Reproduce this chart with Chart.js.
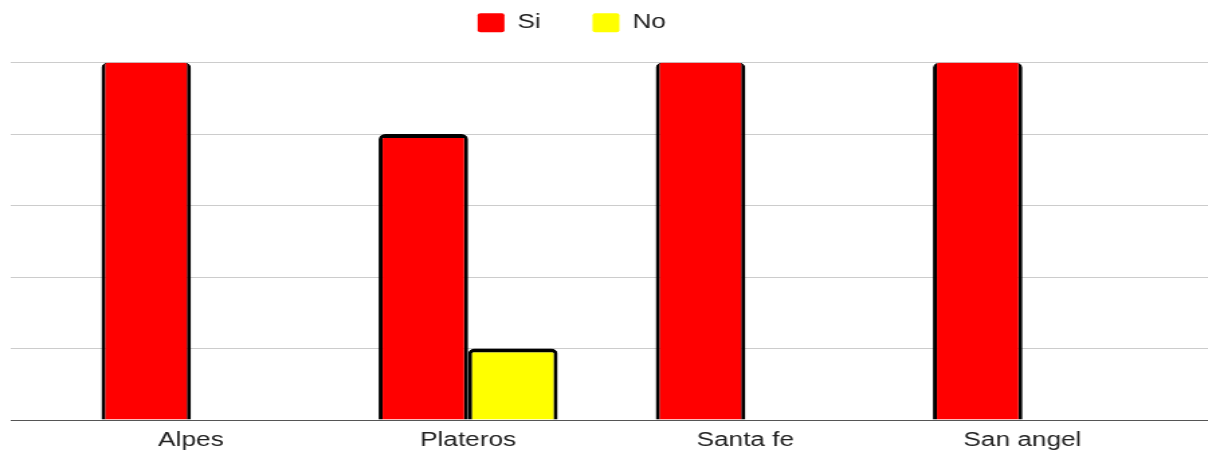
<!DOCTYPE html>
<html>
<head>
<meta charset="utf-8">
<script src="https://cdn.jsdelivr.net/npm/chart.js@4"></script>
<style>
  html, body { margin: 0; padding: 0; background: #fff; overflow: hidden; }
  #wrap { width: 900px; height: 450px; transform: scaleX(1.3422); transform-origin: 0 0; }
</style>
</head>
<body>
<div id="wrap"><canvas id="chart" width="900" height="450"></canvas></div>
<script>
const categories = ["Alpes", "Plateros", "Santa fe", "San angel"];
const siValues = [5, 4, 5, 5];
const noValues = [0, 1, 0, 0];
const yMax = 5;

Chart.defaults.font.family = "'Liberation Sans', Arial, sans-serif";
Chart.defaults.color = "#222";

// grid color: zero line darker, like an axis
function gridColor(ctx) {
    return ctx.tick && ctx.tick.value === 0 ? "#555" : "#ccc";
}

// bars that reach the top run past the plot edge, so no top border
function barBorder(ctx) {
    const atTop = ctx.parsed && ctx.parsed.y >= yMax;
    return { top: atTop ? 0 : 4, left: 3, right: 3, bottom: 0 };
}

// legend padding is shared between x and y, so nudge the box after layout
const legendShift = {
    id: "legendShift",
    afterLayout(chart) {
        const lg = chart.legend;
        lg.left -= 28; lg.right -= 28;
        lg.top -= 20; lg.bottom -= 20;
    }
};

const ctx = document.getElementById("chart").getContext("2d");
new Chart(ctx, {
    type: "bar",
    data: {
        labels: categories,
        datasets: [
            { label: "Si", data: siValues, backgroundColor: "#ff0000", borderColor: "#000",
              borderWidth: barBorder, borderRadius: 5, clip: 0 },
            { label: "No", data: noValues, backgroundColor: "#ffff00", borderColor: "#000",
              borderWidth: barBorder, borderRadius: 5, clip: 0 }
        ]
    },
    options: {
        responsive: false,
        maintainAspectRatio: false,
        animation: false,
        layout: { padding: { left: 8, right: 0, top: -5.5, bottom: 0 } },
        datasets: { bar: { categoryPercentage: 0.646, barPercentage: 1.0 } },
        plugins: {
            tooltip: { enabled: false },
            legend: {
                position: "top",
                labels: {
                    font: { size: 19.5 },
                    boxWidth: 20,
                    boxHeight: 19,
                    padding: 38.5,
                    useBorderRadius: true,
                    borderRadius: 2,
                    generateLabels: function (chart) {
                        return Chart.defaults.plugins.legend.labels.generateLabels(chart)
                            .map(l => Object.assign(l, { lineWidth: 0, strokeStyle: "rgba(0,0,0,0)" }));
                    }
                }
            }
        },
        scales: {
            x: {
                grid: { display: false, drawTicks: false },
                border: { display: false },
                ticks: { font: { size: 19.5 }, padding: 9 },
                afterFit: s => { s.height = 30; }
            },
            y: {
                min: 0,
                max: yMax,
                ticks: { display: false, stepSize: 1 },
                border: { display: false },
                grid: { color: gridColor, tickLength: 31 }
            },
            y2: {
                position: "right",
                min: 0,
                max: yMax,
                ticks: { display: false, stepSize: 1 },
                border: { display: false },
                grid: { color: gridColor, tickLength: 35, drawOnChartArea: false }
            }
        }
    },
    plugins: [legendShift]
});
</script>
</body>
</html>
